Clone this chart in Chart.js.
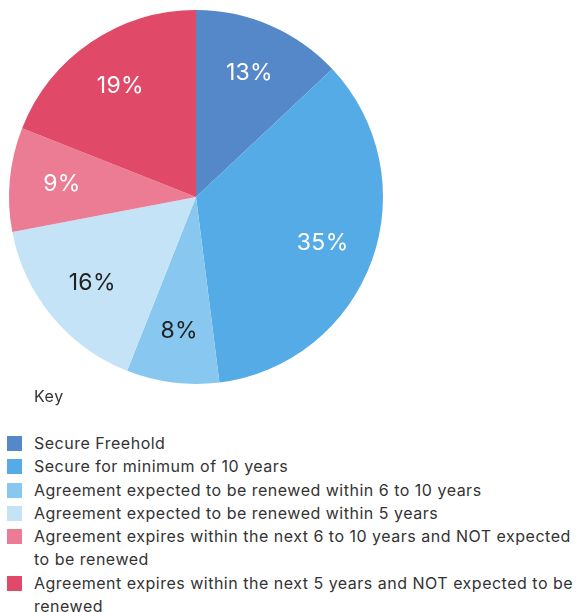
<!DOCTYPE html>
<html>
<head>
<meta charset="utf-8">
<script src="https://cdn.jsdelivr.net/npm/chart.js@4"></script>
<style>
  body { margin: 0; background: #fff; font-family: Inter, "Noto Sans", sans-serif; color: #333; }
  #wrap { position: relative; width: 579px; height: 394px; }
  #key { position: absolute; left: 34px; top: 386px; font-size: 16px; letter-spacing: 0.5px; }
  #legend { position: absolute; left: 0; top: 432px; width: 579px; font-size: 16px; letter-spacing: 0.5px; line-height: 23.3px; }
  .item { position: relative; padding-left: 34px; }
  .sw { position: absolute; left: 7px; top: 4px; width: 15px; height: 15px; }
</style>
</head>
<body>
<div id="wrap"><canvas id="pie"></canvas></div>
<div id="key">Key</div>
<div id="legend"></div>
<script>
const labels = [
  "Secure Freehold",
  "Secure for minimum of 10 years",
  "Agreement expected to be renewed within 6 to 10 years",
  "Agreement expected to be renewed within 5 years",
  "Agreement expires within the next 6 to 10 years and NOT expected to be renewed",
  "Agreement expires within the next 5 years and NOT expected to be renewed"
];
const values = [13, 35, 8, 16, 9, 19];
const colors = ["#5488c9", "#55abe5", "#88c8f0", "#c4e3f6", "#ec7c94", "#e04a68"];
const labelColors = ["#fff", "#fff", "#222", "#222", "#fff", "#fff"];

// percentage text inside each slice
const sliceLabels = {
  id: "sliceLabels",
  afterDatasetsDraw(chart) {
    const ctx = chart.ctx;
    const meta = chart.getDatasetMeta(0);
    ctx.save();
    ctx.font = "23px Inter, 'Noto Sans', sans-serif";
    ctx.letterSpacing = "0.3px";
    ctx.textAlign = "center";
    ctx.textBaseline = "middle";
    meta.data.forEach((arc, i) => {
      const mid = (arc.startAngle + arc.endAngle) / 2;
      const r = arc.outerRadius * 0.72;
      ctx.fillStyle = labelColors[i];
      ctx.fillText(values[i] + "%", arc.x + Math.cos(mid) * r, arc.y + Math.sin(mid) * r);
    });
    ctx.restore();
  }
};

new Chart(document.getElementById("pie"), {
  type: "pie",
  data: {
    labels: labels,
    datasets: [{ data: values, backgroundColor: colors, borderWidth: 0 }]
  },
  options: {
    responsive: true,
    maintainAspectRatio: false,
    animation: false,
    layout: { padding: { left: 9, right: 196, top: 10, bottom: 10 } },
    plugins: { legend: { display: false }, tooltip: { enabled: false } }
  },
  plugins: [sliceLabels]
});

const legend = document.getElementById("legend");
labels.forEach((l, i) => {
  const div = document.createElement("div");
  div.className = "item";
  div.innerHTML = '<span class="sw" style="background:' + colors[i] + '"></span>' + l;
  legend.appendChild(div);
});
</script>
</body>
</html>
